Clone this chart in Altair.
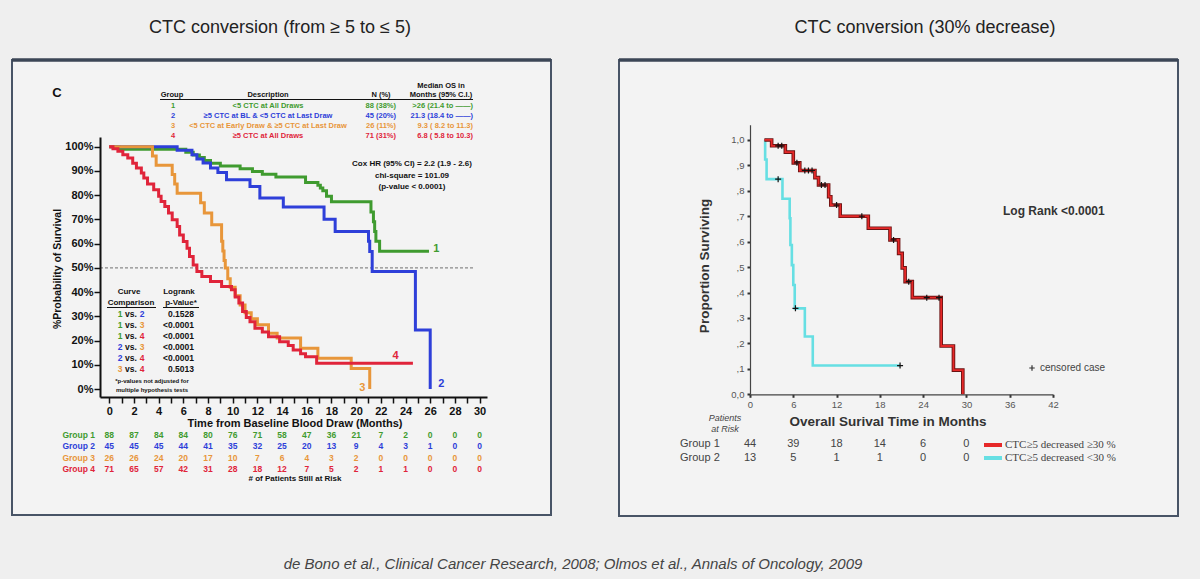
import altair as alt
import pandas as pd

# ---------------- Left panel data (de Bono 2008, Kaplan-Meier, % survival) ----------------
g1_t = [0, 0.8, 6.2, 6.8, 7.3, 7.7, 8.2, 9.0, 10.6, 11.6, 12.4, 13.5, 15.9, 16.9, 17.1, 17.3, 17.6, 18.0, 21.2, 21.4, 21.5, 21.6, 21.9, 25.9]
g1_s = [100, 98.9, 97.7, 96.6, 95.5, 94.3, 93.2, 92.0, 90.9, 89.8, 88.6, 87.5, 85.2, 84.1, 83.0, 81.8, 79.5, 77.3, 73.0, 69.0, 65.0, 61.0, 56.8, 56.8]

g2_t = [0, 5.5, 6.7, 7.1, 7.6, 8.2, 8.8, 9.5, 11.4, 12.2, 14.1, 17.4, 18.3, 21.0, 21.1, 21.3, 24.8, 26.0]
g2_s = [100, 98.5, 96.7, 94.9, 93.3, 91.2, 89.4, 86.4, 83.6, 78.8, 75.1, 70.1, 65.0, 61.0, 56.7, 48.5, 24.4, 0]

g3_t = [0, 3.5, 3.8, 5.1, 5.3, 5.5, 7.4, 7.7, 8.3, 9.1, 9.2, 9.3, 9.4, 9.6, 9.8, 10.2, 10.6, 11.0, 11.5, 12.0, 12.9, 13.6, 15.5, 16.9, 19.6, 21.1]
g3_s = [100, 96.2, 92.3, 88.5, 84.6, 80.8, 76.9, 72.6, 67.8, 61.0, 57.0, 53.0, 49.9, 45.5, 42.0, 38.5, 34.7, 31.5, 29.0, 26.5, 23.0, 21.0, 16.8, 12.7, 8.5, 0]

g4_t = [0, 0.3, 0.7, 1.1, 1.5, 1.9, 2.2, 2.6, 2.8, 3.1, 3.6, 4.0, 4.2, 4.5, 4.8, 5.1, 5.5, 5.7, 6.0, 6.3, 6.5, 6.8, 7.1, 7.5, 8.2, 9.1, 9.9, 10.2, 10.5, 10.8, 11.1, 11.4, 11.8, 12.4, 12.9, 13.8, 14.5, 14.9, 15.5, 15.9, 16.8, 24.6]
g4_s = [100, 99.2, 98.1, 96.7, 95.3, 93.2, 91.2, 89.1, 87.1, 84.6, 82.2, 79.5, 77.4, 75.3, 72.6, 69.8, 67.1, 63.6, 60.9, 58.1, 54.7, 51.2, 48.5, 46.4, 44.4, 42.3, 41.0, 38.0, 35.5, 32.0, 29.5, 27.8, 25.1, 23.5, 21.6, 19.5, 18.0, 16.1, 14.5, 13.3, 10.6, 10.6]

curve_end_labels = ["1", "2", "3", "4"]
curve_end_t = [26.5, 26.9, 20.5, 23.2]
curve_end_s = [57.9, 2.0, 0.4, 13.6]

risk_months_L = list(range(0, 31, 2))
risk_g1 = [88, 87, 84, 84, 80, 76, 71, 58, 47, 36, 21, 7, 2, 0, 0, 0]
risk_g2 = [45, 45, 45, 44, 41, 35, 32, 25, 20, 13, 9, 4, 3, 1, 0, 0]
risk_g3 = [26, 26, 24, 20, 17, 10, 7, 6, 4, 3, 2, 0, 0, 0, 0, 0]
risk_g4 = [71, 65, 57, 42, 31, 28, 18, 12, 7, 5, 2, 1, 1, 0, 0, 0]

tbl_group = ["1", "2", "3", "4"]
tbl_desc = ["<5 CTC at All Draws", "≥5 CTC at BL & <5 CTC at Last Draw",
            "<5 CTC at Early Draw & ≥5 CTC at Last Draw", "≥5 CTC at All Draws"]
tbl_n = ["88 (38%)", "45 (20%)", "26 (11%)", "71 (31%)"]
tbl_median = [">26 (21.4 to ——)", "21.3 (18.4 to ——)", "9.3 ( 8.2 to 11.3)", "6.8 ( 5.8 to 10.3)"]

cmp_a = ["1", "1", "1", "2", "2", "3"]
cmp_b = ["2", "3", "4", "3", "4", "4"]
cmp_p = ["0.1528", "<0.0001", "<0.0001", "<0.0001", "<0.0001", "0.5013"]

# ---------------- Right panel data (Olmos 2009, proportion surviving) ----------------
r1_t = [2.0, 3.0, 4.9, 6.0, 6.9, 9.0, 9.5, 10.9, 11.2, 12.5, 16.4, 19.4, 20.6, 21.1, 21.5, 22.5, 26.5, 28.2, 29.5]
r1_s = [1.0, 0.977, 0.952, 0.91, 0.88, 0.852, 0.823, 0.777, 0.744, 0.70, 0.653, 0.607, 0.554, 0.497, 0.443, 0.38, 0.19, 0.095, 0.0]
r1_cens_t = [3.9, 4.4, 6.5, 7.6, 8.1, 8.6, 9.9, 10.4, 12.0, 15.5, 19.9, 22.0, 24.5, 26.2]
r1_cens_s = [0.977, 0.977, 0.91, 0.88, 0.88, 0.88, 0.823, 0.823, 0.744, 0.70, 0.607, 0.443, 0.38, 0.38]

r2_t = [2.0, 2.1, 2.3, 4.5, 5.5, 5.6, 5.8, 6.0, 6.2, 7.6, 8.7, 20.8]
r2_s = [1.0, 0.923, 0.846, 0.769, 0.692, 0.587, 0.508, 0.43, 0.338, 0.227, 0.113, 0.113]
r2_cens_t = [3.9, 6.3, 20.8]
r2_cens_s = [0.846, 0.338, 0.113]

risk_months_R = [0, 6, 12, 18, 24, 30]
riskR_g1 = [44, 39, 18, 14, 6, 0]
riskR_g2 = [13, 5, 1, 1, 0, 0]

# ---------------- styling ----------------
SANS = "Liberation Sans, Arial, sans-serif"
NARROW = "Liberation Sans Narrow, Arial Narrow, Liberation Sans, sans-serif"
SERIF = "Liberation Serif, Times New Roman, serif"
COLS = ["#3f9b2f", "#2e3fd9", "#e8963a", "#e0243a"]
RED_R = "#e62828"
CYAN_R = "#66dfe3"
BG = "#efefef"

LX = alt.Scale(domain=[-0.75, 30.6], range=[100, 487], nice=False, zero=False)
LY = alt.Scale(domain=[-3.3, 104], range=[397, 137], nice=False, zero=False)
RX = alt.Scale(domain=[0, 42], range=[750, 1053], nice=False, zero=False)
RY = alt.Scale(domain=[0, 1.06], range=[394.3, 124.7], nice=False, zero=False)

ONE = pd.DataFrame({"k": [0]})


def txt(x, y, s, size=8, weight="bold", color="#111", align="center", font=SANS, style="normal", angle=None):
    kw = dict(text=s, fontSize=size, fontWeight=weight, color=color, align=align,
              baseline="middle", font=font, fontStyle=style)
    if angle is not None:
        kw["angle"] = angle
    return alt.Chart(ONE).mark_text(**kw).encode(x=alt.value(x), y=alt.value(y))


def hrule(x1, x2, y, color="#111", width=1.0, dash=None):
    kw = dict(color=color, strokeWidth=width)
    if dash:
        kw["strokeDash"] = dash
    return alt.Chart(ONE).mark_rule(**kw).encode(x=alt.value(x1), x2=alt.value(x2), y=alt.value(y))


layers = []

# panel boxes
for (x1, x2, y1, y2) in [(12, 551, 60, 515), (619, 1178, 60, 516)]:
    layers.append(alt.Chart(ONE).mark_rect(fill="#f3f3f3", stroke="#485466", strokeWidth=2).encode(
        x=alt.value(x1), x2=alt.value(x2), y=alt.value(y1), y2=alt.value(y2)))
    layers.append(hrule(x1, x2, y1, color="#3c4656", width=3.5))

# titles and footer
layers.append(txt(280, 28, "CTC conversion (from ≥ 5 to ≤ 5)", size=18, weight="normal", color="#222", font=NARROW))
layers.append(txt(925, 28, "CTC conversion (30% decrease)", size=18, weight="normal", color="#222", font=NARROW))
layers.append(txt(573, 564, "de Bono et al., Clinical Cancer Research, 2008; Olmos et al., Annals of Oncology, 2009",
                  size=15, weight="normal", color="#444", font=NARROW, style="italic"))

# ---------------- Left panel ----------------
left_x_axis = alt.Axis(orient="bottom", offset=397 - 579, values=list(range(31)), zindex=2,
                       labelExpr="datum.value % 2 == 0 ? datum.label : ''",
                       tickSize=6, tickWidth=1.5, tickColor="#111", domainColor="#111", domainWidth=2,
                       labelFont=SANS, labelFontSize=11, labelFontWeight="bold", labelColor="#111",
                       labelPadding=2, title=None, grid=False, labelOverlap=False, labelFlush=False)
left_y_axis = alt.Axis(orient="left", offset=-100, values=list(range(0, 101, 10)), zindex=2,
                       labelExpr="datum.value + '%'",
                       tickSize=6, tickWidth=1.5, tickColor="#111", domainColor="#111", domainWidth=2,
                       labelFont=SANS, labelFontSize=11, labelFontWeight="bold", labelColor="#111",
                       labelPadding=1, title=None, grid=False, labelOverlap=False, labelFlush=False)

# 50% dashed reference line
layers.append(alt.Chart(pd.DataFrame({"t0": [-0.75], "t1": [29.5], "s": [50]})).mark_rule(
    color="#8a8a8a", strokeWidth=1.2, strokeDash=[3, 2]).encode(
    x=alt.X("t0:Q", scale=LX, axis=None), x2="t1:Q", y=alt.Y("s:Q", scale=LY, axis=None)))

curves_L = [(g1_t, g1_s), (g2_t, g2_s), (g3_t, g3_s), (g4_t, g4_s)]
for i, (tt, ss) in enumerate(curves_L):
    df = pd.DataFrame({"t": tt, "s": ss})
    layers.append(alt.Chart(df).mark_line(interpolate="step-after", color=COLS[i], strokeWidth=3).encode(
        x=alt.X("t:Q", scale=LX, axis=left_x_axis if i == 0 else None),
        y=alt.Y("s:Q", scale=LY, axis=left_y_axis if i == 0 else None)))

layers.append(alt.Chart(pd.DataFrame({"t": curve_end_t, "s": curve_end_s, "lab": curve_end_labels})).mark_text(
    fontSize=11, fontWeight="bold", font=SANS).encode(
    x=alt.X("t:Q", scale=LX, axis=None), y=alt.Y("s:Q", scale=LY, axis=None), text="lab:N",
    color=alt.Color("lab:N", scale=alt.Scale(domain=tbl_group, range=COLS), legend=None)))

# axis titles
layers.append(txt(295, 424, "Time from Baseline Blood Draw (Months)", size=11))
layers.append(txt(58, 269, "%Probability of Survival", size=10.5, angle=270))
layers.append(txt(57, 93, "C", size=13))

# risk table (left)
risk_rows = [risk_g1, risk_g2, risk_g3, risk_g4]
row_y = [435, 446, 458, 469]
for i, vals in enumerate(risk_rows):
    layers.append(txt(95, row_y[i], "Group " + tbl_group[i], size=8.5, color=COLS[i], align="right"))
    layers.append(alt.Chart(pd.DataFrame({"t": risk_months_L, "n": vals})).mark_text(
        fontSize=8.5, fontWeight="bold", font=SANS, color=COLS[i], baseline="middle").encode(
        x=alt.X("t:Q", scale=LX, axis=None), y=alt.value(row_y[i]), text="n:Q"))
layers.append(txt(295, 479, "# of Patients Still at Risk", size=8))

# top description table
tdf = pd.DataFrame({"row": [1, 2, 3, 4], "grp": tbl_group, "desc": tbl_desc, "n": tbl_n, "med": tbl_median})
TROW = alt.Scale(domain=[1, 4], range=[106, 136])
TCOL = alt.Scale(domain=tbl_group, range=COLS)
for field, xpos, align in [("grp", 173, "center"), ("desc", 268, "center"), ("n", 396, "right"), ("med", 473, "right")]:
    layers.append(alt.Chart(tdf).mark_text(fontSize=7.5, fontWeight="bold", font=SANS, align=align,
                                           baseline="middle").encode(
        x=alt.value(xpos), y=alt.Y("row:Q", scale=TROW, axis=None), text=f"{field}:N",
        color=alt.Color("grp:N", scale=TCOL, legend=None)))
layers.append(txt(172, 95, "Group", size=7.5))
layers.append(txt(268, 95, "Description", size=7.5))
layers.append(txt(381, 95, "N (%)", size=7.5))
layers.append(txt(441, 86, "Median OS in", size=7.5))
layers.append(txt(441, 95, "Months (95% C.I.)", size=7.5))
layers.append(hrule(160, 473, 99.5, width=1))

# Cox text
layers.append(txt(412, 164, "Cox HR (95% CI) = 2.2 (1.9 - 2.6)", size=8))
layers.append(txt(412, 176, "chi-square = 101.09", size=8))
layers.append(txt(412, 187, "(p-value < 0.0001)", size=8))

# logrank table
ldf = pd.DataFrame({"row": list(range(1, 7)), "a": cmp_a, "b": cmp_b, "p": cmp_p})
LROW = alt.Scale(domain=[1, 6], range=[314, 369])
layers.append(txt(129, 292, "Curve", size=8))
layers.append(txt(179, 292, "Logrank", size=8))
layers.append(txt(131, 303, "Comparison", size=8))
layers.append(txt(181, 303, "p-Value*", size=8))
layers.append(hrule(107, 156, 307.5, width=1))
layers.append(hrule(163, 199, 307.5, width=1))
for field, xpos in [("a", 120), ("b", 142)]:
    layers.append(alt.Chart(ldf).mark_text(fontSize=8.5, fontWeight="bold", font=SANS, baseline="middle").encode(
        x=alt.value(xpos), y=alt.Y("row:Q", scale=LROW, axis=None), text=f"{field}:N",
        color=alt.Color(f"{field}:N", scale=TCOL, legend=None)))
layers.append(alt.Chart(ldf).mark_text(fontSize=8.5, fontWeight="bold", font=SANS, baseline="middle",
                                       text="vs.", color="#111").encode(
    x=alt.value(131), y=alt.Y("row:Q", scale=LROW, axis=None)))
layers.append(alt.Chart(ldf).mark_text(fontSize=8.5, fontWeight="bold", font=SANS, baseline="middle",
                                       align="right", color="#111").encode(
    x=alt.value(194), y=alt.Y("row:Q", scale=LROW, axis=None), text="p:N"))
layers.append(txt(152, 381, "*p-values not adjusted for", size=6))
layers.append(txt(152, 390, "multiple hypothesis tests", size=6))

# ---------------- Right panel ----------------
right_x_axis = alt.Axis(orient="bottom", offset=394.3 - 579, values=risk_months_R + [36, 42], zindex=2,
                        tickSize=3, tickWidth=2, tickColor="#333", domainColor="#444", domainWidth=1.2,
                        labelFont=SANS, labelFontSize=9.5, labelColor="#555", labelPadding=2,
                        title=None, grid=False, labelOverlap=False, labelFlush=False)
right_y_axis = alt.Axis(orient="left", offset=-750, values=[round(i * 0.1, 1) for i in range(11)], zindex=2,
                        labelExpr="datum.value == 0 ? '0,0' : (datum.value >= 0.99 ? '1,0' : ',' + round(datum.value * 10))",
                        tickSize=3, tickWidth=2, tickColor="#333", domainColor="#444", domainWidth=1.2,
                        labelFont=SANS, labelFontSize=9.5, labelColor="#555", labelPadding=3,
                        title=None, grid=False, labelOverlap=False, labelFlush=False)

df_r1 = pd.DataFrame({"t": r1_t, "s": r1_s})
df_r2 = pd.DataFrame({"t": r2_t, "s": r2_s})
layers.append(alt.Chart(df_r2).mark_line(interpolate="step-after", color=CYAN_R, strokeWidth=2.6).encode(
    x=alt.X("t:Q", scale=RX, axis=right_x_axis), y=alt.Y("s:Q", scale=RY, axis=right_y_axis)))
layers.append(alt.Chart(df_r1).mark_line(interpolate="step-after", color="#6a1212", strokeWidth=3.6).encode(
    x=alt.X("t:Q", scale=RX, axis=None), y=alt.Y("s:Q", scale=RY, axis=None)))
layers.append(alt.Chart(df_r1).mark_line(interpolate="step-after", color=RED_R, strokeWidth=1.8).encode(
    x=alt.X("t:Q", scale=RX, axis=None), y=alt.Y("s:Q", scale=RY, axis=None)))

PLUS = "M-1,0L1,0M0,-1L0,1"
cens = pd.DataFrame({"t": r1_cens_t + r2_cens_t, "s": r1_cens_s + r2_cens_s})
layers.append(alt.Chart(cens).mark_point(shape=PLUS, size=36, filled=False, color="#111", strokeWidth=1.2,
                                         opacity=1).encode(
    x=alt.X("t:Q", scale=RX, axis=None), y=alt.Y("s:Q", scale=RY, axis=None)))

layers.append(txt(705, 266, "Proportion Surviving", size=13.5, color="#333", angle=270))
layers.append(txt(888, 422, "Overall Surival Time in Months", size=13.5, color="#333"))
layers.append(txt(1003, 211, "Log Rank <0.0001", size=12, color="#333", align="left"))
layers.append(alt.Chart(ONE).mark_point(shape=PLUS, size=30, filled=False, color="#333", strokeWidth=1.2,
                                        opacity=1).encode(x=alt.value(1032), y=alt.value(368)))
layers.append(txt(1040, 368, "censored case", size=10, weight="normal", color="#444", align="left"))

# right risk table
layers.append(txt(725, 418, "Patients", size=9, weight="normal", color="#444", style="italic"))
layers.append(txt(725, 429, "at Risk", size=9, weight="normal", color="#444", style="italic"))
for i, (vals, yy) in enumerate([(riskR_g1, 444), (riskR_g2, 458)]):
    layers.append(txt(680, yy, "Group " + str(i + 1), size=11, weight="normal", color="#444", align="left"))
    layers.append(alt.Chart(pd.DataFrame({"t": risk_months_R, "n": vals})).mark_text(
        fontSize=11, font=SANS, color="#444", baseline="middle").encode(
        x=alt.X("t:Q", scale=RX, axis=None), y=alt.value(yy), text="n:Q"))

# legend
layers.append(hrule(984, 1002, 445, color=RED_R, width=4))
layers.append(hrule(984, 1002, 458, color=CYAN_R, width=4))
layers.append(txt(1005, 445, "CTC≥5 decreased  ≥30 %", size=11, weight="normal", color="#444", align="left", font=SERIF))
layers.append(txt(1005, 458, "CTC≥5 decreased <30 %", size=11, weight="normal", color="#444", align="left", font=SERIF))

chart = alt.layer(*layers).resolve_scale(
    x="independent", y="independent", color="independent"
).properties(
    width=1200, height=579, autosize=alt.AutoSizeParams(type="none"), padding=0, background=BG
).configure_view(strokeWidth=0)

chart.save("out.html", embed_options={"renderer": "svg", "actions": False})
